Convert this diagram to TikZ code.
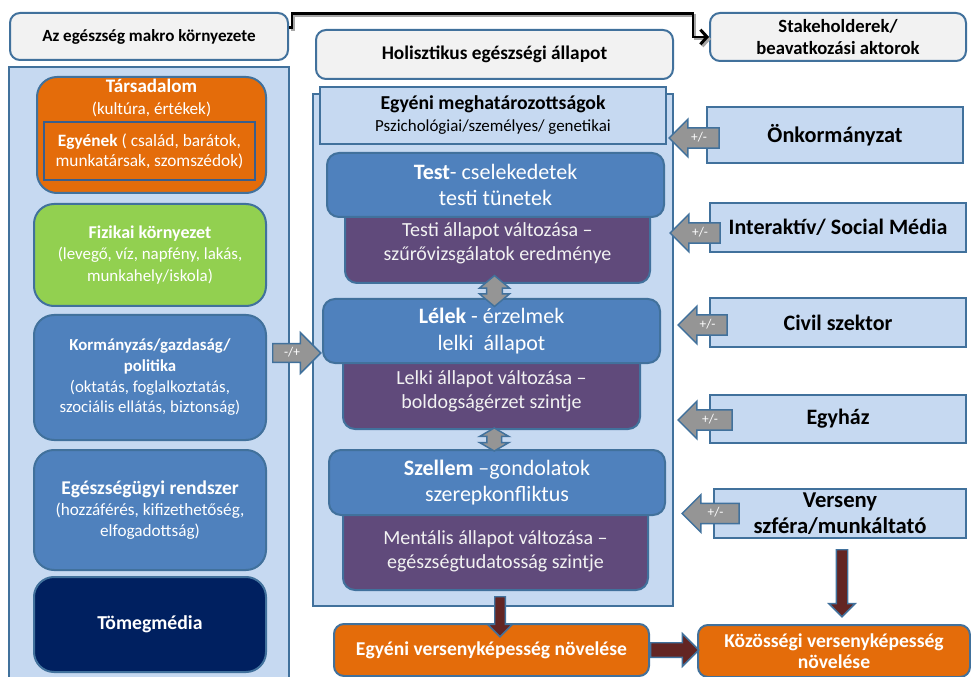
\documentclass[tikz,border=0pt]{standalone}
\usepackage{fontspec}
\setmainfont{Carlito}
\usetikzlibrary{shapes.arrows,calc,arrows.meta}
\newdimen\pu \pu=0.75pt
\definecolor{bord}{HTML}{41719C}
\definecolor{bordd}{HTML}{3A5E8C}
\definecolor{lblue}{HTML}{C6D9F1}
\definecolor{lgray}{HTML}{F2F2F2}
\definecolor{orng}{HTML}{E46C0A}
\definecolor{grn}{HTML}{92D050}
\definecolor{mblue}{HTML}{4F81BD}
\definecolor{navy}{HTML}{002060}
\definecolor{purp}{HTML}{604A7B}
\definecolor{dred}{HTML}{632523}
\definecolor{agray}{HTML}{959595}
\tikzset{
  box/.style={draw=bord, line width=1.5pt, inner sep=0pt, align=center},
  panel/.style={box, fill=lblue},
  hdr/.style={box, fill=lgray, rounded corners=10\pu, font=\fontsize{12.8}{14}\selectfont\bfseries},
  rbox/.style={box, rounded corners=20\pu, text=white},
  cbox/.style={box, fill=mblue, rounded corners=12\pu, text=white, font=\fontsize{16.5}{20}\selectfont},
  pbox/.style={box, fill=purp, rounded corners=12\pu},
  ptxt/.style={align=center, text=lgray, inner sep=0pt, font=\fontsize{15}{18}\selectfont},
  sqbox/.style={box, fill=lblue, font=\fontsize{16.5}{19}\selectfont\bfseries},
  txt/.style={align=center, inner sep=0pt, text=white},
  pm/.style={single arrow, draw=bord, line width=1.1pt, fill=agray, text=white,
    font=\fontsize{10}{11}\selectfont, text height=7pt, text depth=2pt,
    inner xsep=2pt, inner ysep=2.6pt, minimum width=27pt,
    single arrow head extend=6.4pt, single arrow head indent=0pt},
  dbl/.style={double arrow, draw=bord, line width=1.1pt, fill=agray, rotate=90,
    inner xsep=0pt, inner ysep=5.4pt, minimum width=21.75pt,
    double arrow head extend=5.4pt, double arrow head indent=0pt},
  darr/.style={single arrow, draw=bord, line width=1.1pt, fill=dred,
    inner xsep=0pt, single arrow head indent=0pt},
  topconn/.style={line width=2.2pt, -{Straight Barb[length=5pt,width=11pt]}},
}
\begin{document}
\begin{tikzpicture}[x=0.75pt,y=-0.75pt]
\useasboundingbox (0,0) rectangle (971,677);
\clip (0,0) rectangle (971,677);

% ---------- left column ----------
\node[panel, minimum width=280\pu, minimum height=623\pu] (lp) at (149,378.5) {};
\node[hdr, minimum width=278\pu, minimum height=47\pu] (mak) at (149,36.5) {Az egészség makro környezete};
\node[rbox, fill=orng, minimum width=229\pu, minimum height=116\pu] (tars) at (151.5,135) {};
\node[txt, font=\fontsize{12.8}{16.5}\selectfont] (tarsT) at (151.5,97.5)
  {{\fontsize{14.3}{16.5}\selectfont\bfseries Társadalom}\\(kultúra, értékek)};
\node[draw=bordd, line width=1.8pt, fill=orng, minimum width=211\pu, minimum height=58\pu,
  inner sep=0pt, text=white, align=center, font=\fontsize{13}{15}\selectfont] (egy) at (149.5,151)
  {{\bfseries Egyének} ( család, barátok,\\munkatársak, szomszédok)};
\node[rbox, fill=grn, minimum width=232\pu, minimum height=102\pu, font=\fontsize{12.7}{16}\selectfont] (fiz) at (150,255)
  {{\fontsize{13.5}{16}\selectfont\bfseries Fizikai környezet}\\(levegő, víz, napfény, lakás,\\munkahely/iskola)};
\node[rbox, fill=mblue, minimum width=232\pu, minimum height=125\pu, font=\fontsize{12.6}{15.5}\selectfont] (kor) at (150,377.5)
  {{\bfseries Kormányzás/gazdaság/}\\{\bfseries politika}\\(oktatás, foglalkoztatás,\\szociális ellátás, biztonság)};
\node[rbox, fill=mblue, minimum width=232\pu, minimum height=120\pu, font=\fontsize{12.9}{15.5}\selectfont] (egs) at (150,510)
  {{\fontsize{14.6}{15.5}\selectfont\bfseries Egészségügyi rendszer}\\(hozzáférés, kifizethetőség,\\elfogadottság)};
\node[rbox, fill=navy, minimum width=232\pu, minimum height=95\pu, font=\fontsize{14.8}{16}\selectfont\bfseries] (tom) at (150,624.5) {Tömegmédia};

% ---------- centre column ----------
\node[panel, minimum width=360\pu, minimum height=512\pu] (cp) at (493,350) {};
\node[hdr, minimum width=357\pu, minimum height=49\pu, font=\fontsize{14.5}{16}\selectfont\bfseries] (hol) at (494.5,54.5) {Holisztikus egészségi állapot};
\node[box, fill=lblue, minimum width=346\pu, minimum height=57\pu, font=\fontsize{12.7}{16.5}\selectfont] (egm) at (493,115.5)
  {{\fontsize{14.8}{16.5}\selectfont\bfseries Egyéni meghatározottságok}\\Pszichológiai/személyes/ genetikai};

\node[pbox, minimum width=305\pu, minimum height=94\pu] (tp) at (497.5,236) {};
\node[cbox, minimum width=337\pu, minimum height=64\pu] (test) at (495.5,185) {{\bfseries Test}- cselekedetek\\testi tünetek};
\node[ptxt] (tpT) at (497.5,243) {Testi állapot változása –\\szűrővizsgálatok eredménye};

\node[pbox, minimum width=297\pu, minimum height=84\pu] (lp2) at (491.5,387) {};
\node[cbox, minimum width=337\pu, minimum height=64\pu] (lel) at (491.5,331) {{\bfseries Lélek} - érzelmek\\lelki\ \ állapot};
\node[ptxt] (lpT) at (491.5,391) {Lelki állapot változása –\\boldogságérzet szintje};

\node[pbox, minimum width=305\pu, minimum height=95\pu] (mp) at (495.5,542.5) {};
\node[cbox, minimum width=336\pu, minimum height=65\pu] (sze) at (497,482.5) {{\bfseries Szellem} –gondolatok\\szerepkonfliktus};
\node[ptxt] (mpT) at (495.5,551) {Mentális állapot változása –\\egészségtudatosság szintje};

\node[dbl, minimum height=23.25pt, double arrow tip angle=100] (d1) at ($(tp.south)!0.5!(lel.north)$) {};
\node[dbl, minimum height=17.25pt, double arrow tip angle=120, inner ysep=5pt] (d2) at ($(lp2.south)!0.5!(sze.north)$) {};

% ---------- right column ----------
\node[hdr, minimum width=256\pu, minimum height=48\pu, font=\fontsize{14}{17}\selectfont\bfseries] (stk) at (838,37) {Stakeholderek/\\beavatkozási aktorok};
\node[sqbox, minimum width=256\pu, minimum height=56\pu, font=\fontsize{16.7}{19}\selectfont\bfseries] (onk) at (835,135) {Önkormányzat};
\node[sqbox, minimum width=256\pu, minimum height=49\pu] (int) at (838,227.5) {Interaktív/ Social Média};
\node[sqbox, minimum width=256\pu, minimum height=49\pu] (civ) at (838,322.5) {Civil szektor};
\node[sqbox, minimum width=256\pu, minimum height=48\pu] (egyh) at (838,419) {Egyház};
\node[sqbox, minimum width=252\pu, minimum height=49\pu, font=\fontsize{17}{19}\selectfont\bfseries] (ver) at (840,513.5) {Verseny\\szféra/munkáltató};

% ---------- bottom ----------
\node[box, fill=orng, rounded corners=10\pu, text=white, minimum width=315\pu, minimum height=52\pu, font=\fontsize{14.7}{16}\selectfont\bfseries] (evn) at (491.5,650) {Egyéni versenyképesség növelése};
\node[box, fill=orng, rounded corners=10\pu, text=white, minimum width=272\pu, minimum height=52\pu, font=\fontsize{14.7}{16}\selectfont\bfseries] (koz) at (834,651) {Közösségi versenyképesség\\növelése};

% ---------- block arrows ----------
\node[pm, shape border rotate=180, minimum height=50\pu, anchor=tip] (a1) at ($(onk.west)+(-38,3)$) {+/-};
\node[pm, shape border rotate=180, minimum height=50\pu, anchor=tip] (a2) at ($(int.west)+(-40,5.5)$) {+/-};
\node[pm, shape border rotate=180, minimum height=49\pu, anchor=tip] (a3) at ($(civ.west)+(-32,2.5)$) {+/-};
\node[pm, shape border rotate=180, minimum height=54\pu, anchor=tip] (a4) at ($(egyh.west)+(-32,1)$) {+/-};
\node[pm, shape border rotate=180, minimum height=57\pu, anchor=tip] (a5) at ($(ver.west)+(-32,0)$) {+/-};
\node[pm, minimum height=48\pu, inner ysep=2pt, minimum width=29.25pt, single arrow head extend=8.25pt, anchor=tail] (a6) at (272,353) {-/+};

\node[darr, rotate=-90, inner ysep=3.4pt, minimum width=17.25pt, single arrow head extend=5.25pt, minimum height=30pt, anchor=tail] (r1) at ($(cp.south)+(7,-11)$) {};
\node[darr, rotate=-90, inner ysep=3.75pt, minimum width=18.75pt, single arrow head extend=5.6pt, minimum height=50.25pt, anchor=tail] (r2) at ($(ver.south)+(2,10)$) {};
\node[darr, inner ysep=4.9pt, minimum width=23.25pt, single arrow head extend=6.75pt, minimum height=36pt, anchor=tail] (r3) at (evn.east) {};

% ---------- top elbow connector ----------
\draw[topconn, black!35, transform canvas={shift={(1.5pt,-1.5pt)}}]
  ($(mak.east)+(0,-9)$) -- ++(3,0) -- ++(0,-14) -| ($(stk.west)+(-16,0)$) -- (stk.west);
\draw[topconn]
  ($(mak.east)+(0,-9)$) -- ++(3,0) -- ++(0,-14) -| ($(stk.west)+(-16,0)$) -- (stk.west);
\end{tikzpicture}
\end{document}
